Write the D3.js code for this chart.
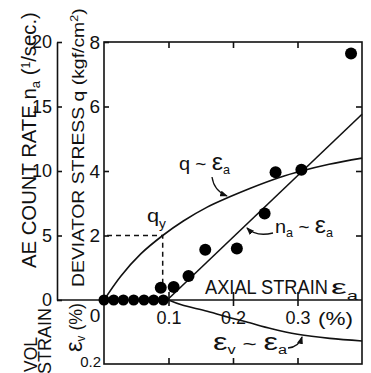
<!DOCTYPE html>
<html lang="en">
<head>
<meta charset="UTF-8">
<title>AE count rate and deviator stress vs axial strain</title>
<script src="https://d3js.org/d3.v7.min.js"></script>
<style>
  body{margin:0;background:#fff;}
  svg{font-family:"Liberation Sans",Arial,sans-serif;}
  text{fill:#111;}
  .frame,.curve{fill:none;stroke:#111;stroke-width:1.6;}
  .axis line,.axis path{stroke:#111;stroke-width:1.6;}
  .axis text{font-family:"Liberation Sans",Arial,sans-serif;fill:#111;}
  .dash{fill:none;stroke:#111;stroke-width:1.5;stroke-dasharray:5,4;}
  .arrow{fill:none;stroke:#111;stroke-width:1.3;}
  .dot{fill:#000;}
</style>
</head>
<body>
<script>
// ticks
var strainTicks = [0.1, 0.2, 0.3];
var rateTicks = [0, 5, 10, 15, 20];
var stressTicks = [2, 4, 6, 8];

// AE count rate points (axial strain %, n_a 1/sec)
var aeStrain = [0, 0.015, 0.03, 0.046, 0.062, 0.077, 0.092, 0.088, 0.108, 0.131, 0.157, 0.206, 0.249, 0.266, 0.306, 0.383];
var aeRate   = [0, 0, 0, 0, 0, 0, 0, 0.95, 1.0, 1.86, 3.9, 4.0, 6.7, 9.9, 10.1, 19.1];

// q ~ axial strain curve
var qStrain = [0, 0.026, 0.057, 0.091, 0.123, 0.16, 0.195, 0.226, 0.272, 0.306, 0.349, 0.4];
var qStress = [0, 0.74, 1.43, 2.0, 2.45, 2.88, 3.2, 3.46, 3.8, 4.0, 4.21, 4.4];

// n_a ~ axial strain fitted line
var nFitStrain = [0.098, 0.4];
var nFitRate   = [0, 14.4];

// volumetric strain curve
var evStrain = [0.1, 0.12, 0.16, 0.2, 0.22, 0.26, 0.3, 0.35, 0.4];
var evVol    = [0, 0.015, 0.035, 0.058, 0.068, 0.09, 0.107, 0.12, 0.128];

// yield point
var qyStrain = 0.091, qyStress = 2.0;

var svg = d3.select("body").append("svg")
    .attr("width", 371).attr("height", 373);

var defs = svg.append("defs");
defs.append("marker").attr("id", "arr")
    .attr("viewBox", "0 0 8 6").attr("refX", 7).attr("refY", 3)
    .attr("markerWidth", 8).attr("markerHeight", 6)
    .attr("markerUnits", "userSpaceOnUse").attr("orient", "auto")
    .append("path").attr("d", "M0,0 L8,3 L0,6 z").attr("fill", "#111");

var x  = d3.scaleLinear().domain([0, 0.4]).range([104, 362]);
var yq = d3.scaleLinear().domain([0, 8]).range([300, 42]);
var yn = d3.scaleLinear().domain([0, 20]).range([300, 42]);
var yv = d3.scaleLinear().domain([0, 0.2]).range([300, 364]);

// frame
svg.append("rect").attr("class", "frame")
    .attr("x", 104).attr("y", 42).attr("width", 258).attr("height", 322);
svg.append("line").attr("class", "frame")
    .attr("x1", 57).attr("x2", 362).attr("y1", yq(0)).attr("y2", yq(0));

// n axis
svg.append("g").attr("class", "axis").attr("transform", "translate(57,0)")
    .call(d3.axisLeft(yn).tickValues(rateTicks).tickSizeInner(-5).tickSizeOuter(0).tickPadding(5))
    .call(function(g){ g.selectAll("text").attr("font-size", 18); });

// q axis
svg.append("g").attr("class", "axis").attr("transform", "translate(104,0)")
    .call(d3.axisLeft(yq).tickValues(stressTicks).tickSizeInner(-5).tickSizeOuter(0).tickPadding(4))
    .call(function(g){ g.select(".domain").remove(); g.selectAll("text").attr("font-size", 19); });

svg.append("g").attr("class", "axis").attr("transform", "translate(362,0)")
    .call(d3.axisRight(yq).tickValues([2, 4, 6]).tickSizeInner(-6).tickSizeOuter(0).tickFormat(""))
    .call(function(g){ g.select(".domain").remove(); });

svg.append("g").attr("class", "axis").attr("transform", "translate(0,42)")
    .call(d3.axisTop(x).tickValues(strainTicks).tickSizeInner(-6).tickSizeOuter(0).tickFormat(""))
    .call(function(g){ g.select(".domain").remove(); });

svg.append("g").attr("class", "axis").attr("transform", "translate(0,364)")
    .call(d3.axisBottom(x).tickValues(strainTicks).tickSizeInner(-6).tickSizeOuter(0).tickFormat(""))
    .call(function(g){ g.select(".domain").remove(); });

// strain axis on the zero line
svg.append("g").attr("class", "axis").attr("transform", "translate(0,300)")
    .call(d3.axisBottom(x).tickValues(strainTicks).tickSizeInner(6).tickSizeOuter(0).tickPadding(5).tickFormat(d3.format(".1f")))
    .call(function(g){
        g.select(".domain").remove();
        g.selectAll("text").attr("font-size", 18);
        g.selectAll(".tick line").attr("y1", -8);
    });

// volumetric strain labels
svg.append("text").attr("x", 95).attr("y", 322).attr("text-anchor", "middle")
    .attr("font-size", 19).text(d3.format("d")(yv.invert(300)));
svg.append("text").attr("x", 101).attr("y", 367).attr("text-anchor", "end")
    .attr("font-size", 15).text(d3.format(".1f")(yv.invert(364)));

// dashed yield guides
svg.append("path").attr("class", "dash")
    .attr("d", "M" + (x(0) + 3) + "," + yq(qyStress) + "H" + x(qyStrain) + "V" + yq(0));

// curves
var qLine = d3.line().x(function(d){ return x(d[0]); }).y(function(d){ return yq(d[1]); })
    .curve(d3.curveCatmullRom.alpha(0.5));
svg.append("path").attr("class", "curve")
    .attr("d", qLine(d3.zip(qStrain, qStress)));

var nLine = d3.line().x(function(d){ return x(d[0]); }).y(function(d){ return yn(d[1]); });
svg.append("path").attr("class", "curve")
    .attr("d", nLine(d3.zip(nFitStrain, nFitRate)));

var vLine = d3.line().x(function(d){ return x(d[0]); }).y(function(d){ return yv(d[1]); })
    .curve(d3.curveCatmullRom.alpha(0.5));
svg.append("path").attr("class", "curve")
    .attr("d", vLine(d3.zip(evStrain, evVol)));

// AE points
svg.append("g").selectAll("circle")
    .data(d3.zip(aeStrain, aeRate))
    .enter().append("circle").attr("class", "dot")
    .attr("cx", function(d){ return x(d[0]); })
    .attr("cy", function(d){ return yn(d[1]); })
    .attr("r", function(d){ return d[1] === 0 ? 5.5 : 6; });

// rotated titles, squeezed to the measured length
function vtext(xb, yb, len, size, build) {
    var t = svg.append("text").attr("font-size", size);
    build(t);
    var w = t.node().getComputedTextLength();
    t.attr("transform", "translate(" + xb + "," + yb + ") rotate(-90) scale(" + (len / w) + ",1)");
}
vtext(36, 268, 256, 20, function(t){
    t.append("tspan").text("AE COUNT RATE n");
    t.append("tspan").attr("dy", 4).attr("font-size", 13).text("a");
    t.append("tspan").attr("dy", -4).text(" (");
    t.append("tspan").attr("dy", -6).attr("font-size", 12).text("1");
    t.append("tspan").attr("dy", 6).text("/sec.)");
});
vtext(84, 287, 279, 17, function(t){
    t.append("tspan").text("DEVIATOR STRESS q (kgf/cm");
    t.append("tspan").attr("dy", -6).attr("font-size", 11).text("2");
    t.append("tspan").attr("dy", 6).text(")");
});
vtext(37, 372, 35, 19, function(t){ t.text("VOL"); });
vtext(51, 374, 66, 18, function(t){ t.text("STRAIN"); });
vtext(82, 352, 49, 18, function(t){
    t.append("tspan").attr("font-size", 24).text("\u03b5");
    t.append("tspan").attr("dy", 3).attr("font-size", 12).text("v");
    t.append("tspan").attr("dy", -3).text(" (%)");
});

// horizontal texts
function htext(xs, yb, len, size, build) {
    var t = svg.append("text").attr("font-size", size);
    build(t);
    var w = t.node().getComputedTextLength();
    t.attr("transform", "translate(" + xs + "," + yb + ") scale(" + (len / w) + ",1)");
    return t;
}
htext(205, 294, 123, 21, function(t){ t.text("AXIAL STRAIN"); });
htext(331, 294, 27, 21, function(t){
    t.append("tspan").text("\u03b5");
    t.append("tspan").attr("dy", 6).attr("font-size", 12).text("a");
});
htext(318, 325, 35, 18, function(t){ t.text("(%)"); });

function relation(xs, yb, len, a, sub) {
    htext(xs, yb, len, 18, function(t){
        if (a === "q") t.append("tspan").attr("font-size", 19).text("q");
        else {
            t.append("tspan").attr("font-size", 24).text("\u03b5");
        }
        if (sub) t.append("tspan").attr("dy", 4).attr("font-size", 12).text(sub);
        t.append("tspan").attr("dy", sub ? -4 : 0).text(" ~ ");
        t.append("tspan").attr("font-size", 24).text("\u03b5");
        t.append("tspan").attr("dy", 4).attr("font-size", 12).text("a");
    });
}
relation(179, 170, 51, "q", null);
relation(213, 350, 74, "e", "v");
htext(275, 233, 58, 18, function(t){
    t.append("tspan").attr("font-size", 19).text("n");
    t.append("tspan").attr("dy", 4).attr("font-size", 12).text("a");
    t.append("tspan").attr("dy", -4).text(" ~ ");
    t.append("tspan").attr("font-size", 24).text("\u03b5");
    t.append("tspan").attr("dy", 4).attr("font-size", 12).text("a");
});

// q_y label
htext(147, 222, 19, 19, function(t){
    t.append("tspan").text("q");
    t.append("tspan").attr("dy", 6).attr("font-size", 12).text("y");
});

// pointer arrows
svg.append("path").attr("class", "arrow").attr("marker-end", "url(#arr)")
    .attr("d", "M212,177 Q214,191 227,196");
svg.append("path").attr("class", "arrow").attr("marker-end", "url(#arr)")
    .attr("d", "M273,233 Q256,237 247,228");
svg.append("path").attr("class", "arrow").attr("marker-end", "url(#arr)")
    .attr("d", "M288,348 Q299,347 302,337");
</script>
</body>
</html>
